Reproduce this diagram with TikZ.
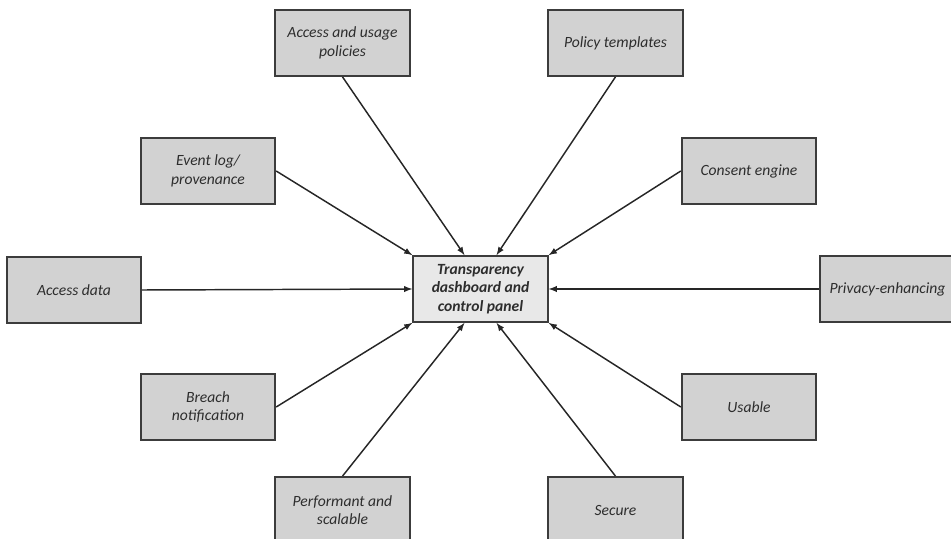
\documentclass[tikz,border=0pt]{standalone}
\usepackage{fontspec}
\setmainfont{Carlito}
\usetikzlibrary{arrows}
\pgfdeclarelayer{edgelayer}
\pgfdeclarelayer{nodelayer}
\pgfsetlayers{edgelayer,nodelayer,main}
\definecolor{boxgrey}{RGB}{210,210,210}
\definecolor{hubgrey}{RGB}{232,232,232}
\definecolor{edgegrey}{RGB}{60,60,60}
\definecolor{textgrey}{RGB}{45,45,45}
\tikzstyle{box}=[rectangle,fill=boxgrey,draw=edgegrey,line width=1.3pt,minimum width=101pt,minimum height=49.5pt,align=center,font=\fontsize{11.7}{14}\selectfont\itshape,text=textgrey]
\tikzstyle{hub}=[box,fill=hubgrey,font=\fontsize{11.7}{14}\selectfont\bfseries\itshape]
\tikzstyle{link}=[-latex,draw=black!85,line width=1.1pt]

\begin{document}
\begin{tikzpicture}[x=0.75pt,y=-0.75pt]
	\useasboundingbox (0,0) rectangle (951,539);
	\begin{pgfonlayer}{nodelayer}
		\node [style=hub] (0) at (480.5, 289) {Transparency\\dashboard and\\control panel};
		\node [style=box] (1) at (342.5, 43) {Access and usage\\policies};
		\node [style=box] (2) at (615.5, 43) {Policy templates};
		\node [style=box] (3) at (208, 171) {Event log/\\provenance};
		\node [style=box] (4) at (749, 171) {Consent engine};
		\node [style=box] (5) at (74, 290) {Access data};
		\node [style=box] (6) at (887.5, 289) {Privacy-enhancing};
		\node [style=box] (7) at (208, 407) {Breach\\notification};
		\node [style=box] (8) at (749, 407) {Usable};
		\node [style=box] (9) at (342.5, 510) {Performant and\\scalable};
		\node [style=box] (10) at (615.5, 510) {Secure};
	\end{pgfonlayer}
	\begin{pgfonlayer}{edgelayer}
		\draw [style=link] (1.south) to ([xshift=-12pt]0.north);
		\draw [style=link] (2.south) to ([xshift=12pt]0.north);
		\draw [style=link] (3.east) to (0.north west);
		\draw [style=link] (4.west) to (0.north east);
		\draw [style=link] (5.east) to (0.west);
		\draw [style=link] (6.west) to (0.east);
		\draw [style=link] (7.east) to (0.south west);
		\draw [style=link] (8.west) to (0.south east);
		\draw [style=link] (9.north) to ([xshift=-12pt]0.south);
		\draw [style=link] (10.north) to ([xshift=12pt]0.south);
	\end{pgfonlayer}
\end{tikzpicture}
\end{document}
